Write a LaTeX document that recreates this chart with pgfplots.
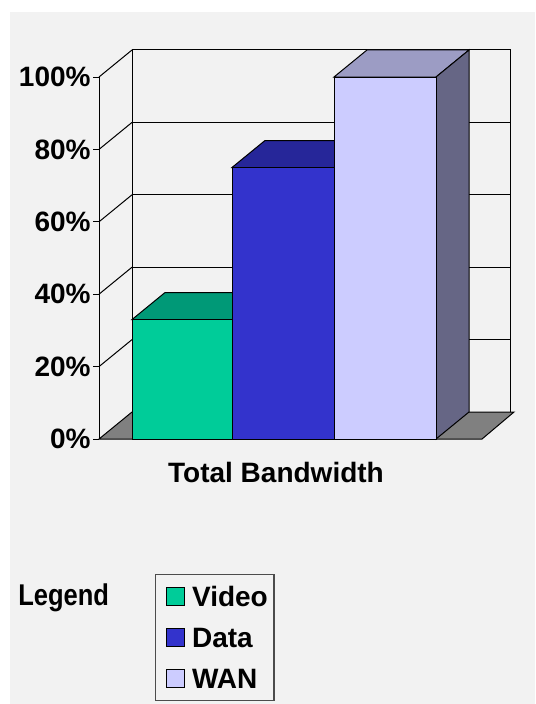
\documentclass[border=0pt]{standalone}
\usepackage{fontspec}
\setmainfont{Liberation Sans}
\usepackage{graphicx}
\usepackage{pgfplots}
\pgfplotsset{compat=1.18}
\definecolor{bg}{HTML}{F2F2F2}
\definecolor{vfront}{HTML}{00CC99}
\definecolor{vtop}{HTML}{009977}
\definecolor{dfront}{HTML}{3333CC}
\definecolor{dtop}{HTML}{262699}
\definecolor{wfront}{HTML}{CCCCFF}
\definecolor{wtop}{HTML}{9C9CC4}
\definecolor{wside}{HTML}{666685}
\definecolor{floorc}{HTML}{808080}
\pgfplotsset{sq legend/.style={legend image code/.code={\path (-3pt,0pt); \draw[##1, line width=0.5pt] (0pt,-4.5pt) rectangle (9pt,4.5pt); \path (11.5pt,0pt);}}}
\begin{document}
\begin{tikzpicture}
\begin{axis}[
  scale only axis, width=205.5pt, height=181pt,
  xmin=99, xmax=510, ymin=0, ymax=100,
  clip=false,
  axis x line=none, axis y line*=left,
  ytick={0,20,40,60,80,100},
  yticklabels={0\%,20\%,40\%,60\%,80\%,100\%},
  tick align=outside, major tick length=3pt,
  tick style={black, line width=0.5pt},
  axis line style={black, line width=0.5pt},
  yticklabel style={font=\bfseries\fontsize{14}{16}\selectfont, inner xsep=1pt},
  axis on top,
  legend cell align=left,
  legend style={at={(axis description cs:0.13625,-0.3729)}, anchor=north west,
    draw=black!70, fill=none, line width=0.7pt,
    inner xsep=2pt, inner ysep=3pt, row sep=4.5pt,
    font=\bfseries\fontsize{14}{16}\selectfont,
    nodes={text height=10pt, text depth=0pt, inner ysep=3pt, inner xsep=1pt}},
]
% canvas
\addplot[fill=white, draw=none, forget plot] coordinates {(0,-73.20) (535,-73.20) (535,121.27) (0,121.27)} --cycle;
\addplot[fill=bg, draw=none, forget plot] coordinates {(10,-73.20) (535,-73.20) (535,117.96) (10,117.96)} --cycle;
% back wall
\addplot[draw=black, line width=0.5pt, forget plot] coordinates {(132,7.46) (132,107.46) (510,107.46) (510,7.46)};
\addplot[draw=black, line width=0.5pt, forget plot] coordinates {(132,27.46) (510,27.46)};
\addplot[draw=black, line width=0.5pt, forget plot] coordinates {(132,47.46) (510,47.46)};
\addplot[draw=black, line width=0.5pt, forget plot] coordinates {(132,67.46) (510,67.46)};
\addplot[draw=black, line width=0.5pt, forget plot] coordinates {(132,87.46) (510,87.46)};
% side wall diagonals
\addplot[draw=black, line width=0.5pt, forget plot] coordinates {(99,20) (132,27.46)};
\addplot[draw=black, line width=0.5pt, forget plot] coordinates {(99,40) (132,47.46)};
\addplot[draw=black, line width=0.5pt, forget plot] coordinates {(99,60) (132,67.46)};
\addplot[draw=black, line width=0.5pt, forget plot] coordinates {(99,80) (132,87.46)};
\addplot[draw=black, line width=0.5pt, forget plot] coordinates {(99,100) (132,107.46)};
% floor
\addplot[fill=floorc, draw=black, line width=0.5pt, forget plot] coordinates {(99,0) (482,0) (514,7.46) (132,7.46)} --cycle;
% Video = 33
\addplot[fill=vtop, draw=black, line width=0.5pt, forget plot] coordinates {(132,33) (232,33) (265,40.46) (165,40.46)} --cycle;
\addplot[fill=vfront, draw=black, line width=0.5pt, forget plot] coordinates {(132,0) (232,0) (232,33) (132,33)} --cycle;
% Data = 75
\addplot[fill=dtop, draw=black, line width=0.5pt, forget plot] coordinates {(232,75) (334,75) (367,82.46) (265,82.46)} --cycle;
\addplot[fill=dfront, draw=black, line width=0.5pt, forget plot] coordinates {(232,0) (334,0) (334,75) (232,75)} --cycle;
% WAN = 100
\addplot[fill=wtop, draw=black, line width=0.5pt, forget plot] coordinates {(334,100) (436,100) (469,107.46) (367,107.46)} --cycle;
\addplot[fill=wside, draw=black, line width=0.5pt, forget plot] coordinates {(436,0) (469,7.46) (469,107.46) (436,100)} --cycle;
\addplot[fill=wfront, draw=black, line width=0.5pt, forget plot] coordinates {(334,0) (436,0) (436,100) (334,100)} --cycle;
% legend
\addlegendimage{sq legend, fill=vfront, draw=black}
\addlegendentry{Video}
\addlegendimage{sq legend, fill=dfront, draw=black}
\addlegendentry{Data}
\addlegendimage{sq legend, fill=wfront, draw=black}
\addlegendentry{WAN}
% texts
\node[anchor=base, inner sep=0pt, font=\bfseries\fontsize{14}{16}\selectfont] at (axis cs:276,-12.15) {Total Bandwidth};
\node[anchor=base west, inner sep=0pt, font=\bfseries\fontsize{15}{17}\selectfont] at (axis cs:18,-45.86) {\scalebox{0.85}[1]{Legend}};
\end{axis}
\end{tikzpicture}
\end{document}
